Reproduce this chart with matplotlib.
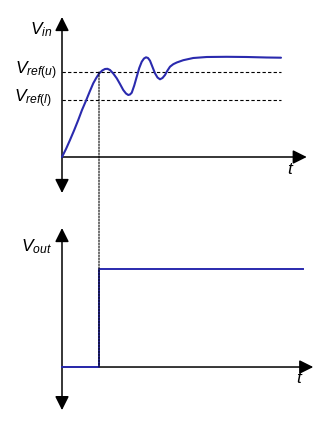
import matplotlib
matplotlib.use("Agg")
import matplotlib.pyplot as plt
from matplotlib.patches import ConnectionPatch

plt.rcParams['mathtext.fontset'] = 'custom'
plt.rcParams['mathtext.it'] = 'Liberation Sans:italic'
plt.rcParams['mathtext.rm'] = 'Liberation Sans'
plt.rcParams['font.family'] = ['Liberation Sans', 'DejaVu Sans']

# ---- data ----
vin_t = [0.00, 0.16, 0.32, 0.49, 0.65, 0.80, 0.96, 1.11, 1.25, 1.38, 1.49, 1.61,
         1.72, 1.82, 1.92, 2.05, 2.19, 2.32, 2.45, 2.56, 2.65, 2.72, 2.79, 2.89,
         2.99, 3.09, 3.19, 3.28, 3.36, 3.44, 3.52, 3.62, 3.72, 3.82, 3.92, 4.02,
         4.12, 4.22, 4.32, 4.45, 4.59, 4.85, 5.25, 5.79, 6.59, 7.39, 8.19, 8.76]
vin_v = [0.00, 0.08, 0.17, 0.27, 0.37, 0.47, 0.563, 0.655, 0.737, 0.795, 0.837, 0.865,
         0.88, 0.882, 0.87, 0.835, 0.787, 0.73, 0.67, 0.635, 0.62, 0.625, 0.643, 0.715,
         0.803, 0.89, 0.953, 0.985, 0.997, 0.99, 0.963, 0.90, 0.837, 0.795, 0.777, 0.79,
         0.82, 0.865, 0.903, 0.928, 0.945, 0.968, 0.99, 1.0, 1.002, 1.0, 0.995, 0.993]
vref_u = 0.85
vref_l = 0.57
t_switch = 1.48
out_t = [0.0, t_switch, 9.65]
out_v = [0, 1, 1]
t_end = 8.76

blue = '#2a2aae'

fig = plt.figure(figsize=(3.29, 4.22), dpi=100)
ax1 = fig.add_axes([0, 222/422, 1, 200/422])
ax2 = fig.add_axes([0, 0, 1, 222/422])
ax1.set_xlim(-2.48, 10.68)
ax1.set_ylim(-0.43, 1.57)
ax2.set_xlim(-2.48, 10.68)
ax2.set_ylim(-0.561, 1.704)
for ax in (ax1, ax2):
    ax.axis('off')

aprops2 = dict(arrowstyle='<|-|>,head_length=0.6,head_width=0.3', color='black',
               lw=1.1, shrinkA=0, shrinkB=0, mutation_scale=14)
aprops1 = dict(arrowstyle='-|>,head_length=0.6,head_width=0.3', color='black',
               lw=1.1, shrinkA=0, shrinkB=0, mutation_scale=14)

# top panel
ax1.annotate('', xy=(0, 1.40), xytext=(0, -0.36), arrowprops=aprops2)
ax1.annotate('', xy=(9.79, 0), xytext=(0, 0), arrowprops=aprops1)
ax1.plot([0, t_end], [vref_u, vref_u], color='black', lw=0.8, ls=(0, (3, 2)))
ax1.plot([0, t_end], [vref_l, vref_l], color='black', lw=0.8, ls=(0, (3, 2)))
ax1.plot(vin_t, vin_v, color=blue, lw=1.5, solid_joinstyle='round',
         solid_capstyle='round', zorder=3)

fs = 12.5
ax1.text(-0.4, 1.27, r'$V_{in}$', ha='right', va='center', fontsize=fs)
ax1.text(-0.2, vref_u + 0.01, r'$V_{ref(u)}$', ha='right', va='center', fontsize=fs)
ax1.text(-0.4, vref_l + 0.01, r'$V_{ref(l)}$', ha='right', va='center', fontsize=fs)
ax1.text(9.15, -0.12, r'$t$', ha='center', va='center', fontsize=fs)

# bottom panel
ax2.annotate('', xy=(0, 1.418), xytext=(0, -0.44), arrowprops=aprops2)
ax2.annotate('', xy=(10.05, 0), xytext=(0, 0), arrowprops=aprops1)
ax2.step(out_t, out_v, where='post', color=blue, lw=1.4, zorder=3)
ax2.text(-0.4, 1.23, r'$V_{out}$', ha='right', va='center', fontsize=fs)
ax2.text(9.5, -0.12, r'$t$', ha='center', va='center', fontsize=fs)

con = ConnectionPatch(xyA=(t_switch, vref_u), coordsA=ax1.transData,
                      xyB=(t_switch, 0), coordsB=ax2.transData,
                      color='black', lw=0.8, ls=(0, (1.5, 1.2)), zorder=5)
fig.add_artist(con)

fig.savefig('out.png', dpi=100, facecolor='white')
